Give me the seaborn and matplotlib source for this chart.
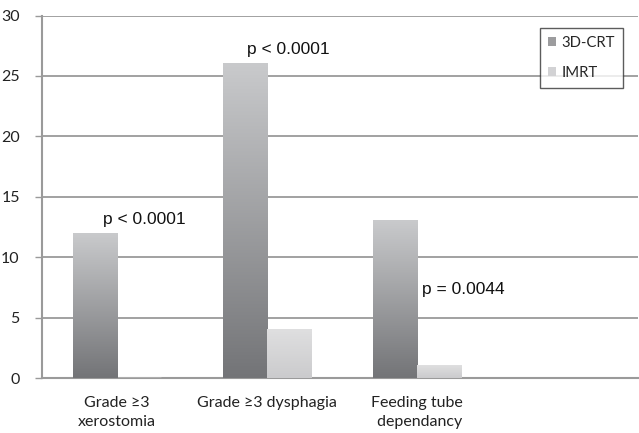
import numpy as np
import pandas as pd
import matplotlib
matplotlib.use("Agg")
import matplotlib.pyplot as plt
import seaborn as sns
from matplotlib.colors import LinearSegmentedColormap
from matplotlib.patches import Patch

categories = ["Grade \u22653\nxerostomia", "Grade \u22653 dysphagia", "Feeding tube\n dependancy"]
series_names = ["3D-CRT", "IMRT"]
crt_values = [12, 26, 13]
imrt_values = [0, 4, 1]
p_labels = ["p < 0.0001", "p < 0.0001", "p = 0.0044"]
yticks = [0, 5, 10, 15, 20, 25, 30]

df = pd.DataFrame({
    "category": categories * 2,
    "series": [series_names[0]] * 3 + [series_names[1]] * 3,
    "value": crt_values + imrt_values,
})

sns.set_style("white")
plt.rcParams["font.family"] = ["Lato", "DejaVu Sans"]

fig = plt.figure(figsize=(6.39, 4.33), dpi=100)
ax = fig.add_axes([0.0657, 0.127, 0.933, 0.837])

sns.barplot(data=df, x="category", y="value", hue="series", order=categories,
            hue_order=series_names, width=0.587, ax=ax, legend=False,
            palette=["#9a9a9c", "#d4d4d6"], errorbar=None, zorder=3)

grad_cols = {
    "3D-CRT": ("#737477", "#c9cacc"),
    "IMRT": ("#cbcbcd", "#dfdfe0"),
}
patches = [p for p in ax.patches]
for i, p in enumerate(patches):
    name = series_names[i // len(categories)]
    x0, y0 = p.get_x(), p.get_y()
    w, h = p.get_width(), p.get_height()
    if h <= 0:
        continue
    cmap = LinearSegmentedColormap.from_list("g", list(grad_cols[name]))
    grad = np.linspace(0, 1, 256).reshape(-1, 1)
    ax.imshow(grad, cmap=cmap, origin="lower", aspect="auto",
              extent=(x0, x0 + w, y0, y0 + h), zorder=3, interpolation="bicubic")
    p.set_visible(False)

ax.set_xlim(-0.5, 3.473)
ax.set_ylim(0, 30)

for yv in yticks[1:]:
    ax.axhline(yv, color="#9a9a9a", lw=1.3, zorder=1)

ax.set_yticks(yticks)
ax.set_yticklabels([str(v) for v in yticks])
ax.set_xticks([-0.5, 0.5, 1.5, 2.5])
ax.set_xticklabels([])
ax.set_xticks(range(len(categories)), minor=True)
ax.set_xticklabels(categories, minor=True)
for t in ax.get_xticklabels(minor=True):
    t.set_linespacing(1.45)
ax.tick_params(axis="x", which="major", length=5, color="#9a9a9a", width=1)
ax.tick_params(axis="x", which="minor", length=0, pad=13, labelsize=11.5, labelcolor="#222222")
ax.tick_params(axis="y", length=5, color="#9a9a9a", width=1, labelsize=11.5,
               labelcolor="#222222", pad=11, left=True)
ax.set_xlabel("")
ax.set_ylabel("")

for s in ["top", "right"]:
    ax.spines[s].set_visible(False)
for s in ["left", "bottom"]:
    ax.spines[s].set_color("#9a9a9a")
    ax.spines[s].set_linewidth(1.5)

pos = [(0.18, 13.1), (1.14, 27.2), (2.307, 7.33)]
for (xv, yv), lab in zip(pos, p_labels):
    ax.text(xv, yv, lab, ha="center", va="center", fontsize=12.5,
            family=["Liberation Sans", "DejaVu Sans"], color="#111111", zorder=5)

handles = [Patch(facecolor="#9c9c9e", edgecolor="none"),
           Patch(facecolor="#d2d2d4", edgecolor="none")]
leg = ax.legend(handles, series_names, loc="upper left",
                bbox_to_anchor=(540 / 639, (433 - 28) / 433),
                bbox_transform=fig.transFigure, frameon=True, fancybox=False,
                handlelength=0.55, handleheight=0.55, handletextpad=0.35,
                labelspacing=1.05, borderpad=0.55, fontsize=10.7, borderaxespad=0)
leg.get_frame().set_edgecolor("#333333")
leg.get_frame().set_linewidth(1.0)
leg.set_zorder(6)

fig.savefig("out.png", dpi=100)
